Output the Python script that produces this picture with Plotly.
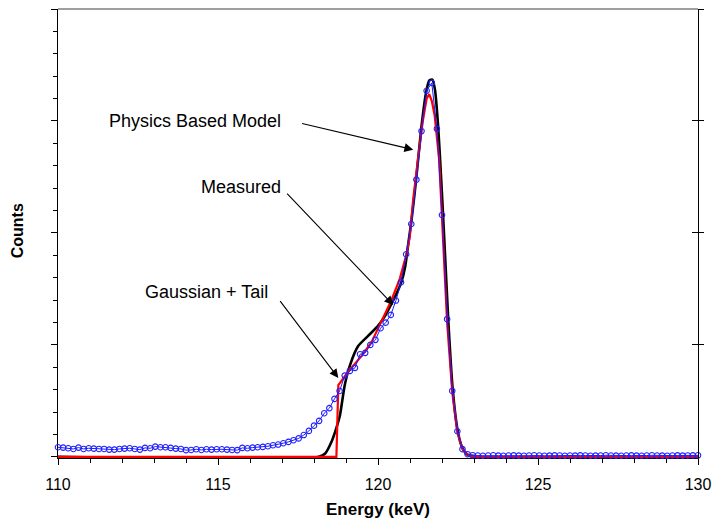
import plotly.graph_objects as go

# ---------------- data ----------------
# Measured spectrum: channels 0.16 keV wide from 110 to 130 keV
E_START = 110.0
E_STEP = 0.16
measured_counts = [
    0.086, 0.083, 0.077, 0.071, 0.083, 0.071, 0.077, 0.074, 0.071, 0.071,
    0.065, 0.065, 0.071, 0.074, 0.077, 0.071, 0.065, 0.080, 0.077, 0.092,
    0.086, 0.086, 0.080, 0.074, 0.071, 0.060, 0.062, 0.068, 0.062, 0.068,
    0.065, 0.068, 0.068, 0.065, 0.062, 0.060, 0.080, 0.077, 0.083, 0.086,
    0.089, 0.095, 0.104, 0.110, 0.122, 0.134, 0.149, 0.165, 0.195, 0.232,
    0.279, 0.322, 0.390, 0.435, 0.518, 0.589, 0.726, 0.768, 0.795, 0.917,
    0.929, 1.000, 1.045, 1.149, 1.199, 1.268, 1.396, 1.560, 1.810, 2.080,
    2.476, 2.910, 3.270, 3.340, 2.930, 2.160, 1.230, 0.589, 0.229, 0.069,
    0.024, 0.015, 0.012, 0.010, 0.012, 0.014, 0.011, 0.010, 0.012, 0.013,
    0.011, 0.010, 0.012, 0.014, 0.012, 0.010, 0.011, 0.013, 0.012, 0.010,
    0.012, 0.011, 0.013, 0.012, 0.010, 0.011, 0.012, 0.014, 0.012, 0.011,
    0.010, 0.012, 0.013, 0.011, 0.010, 0.012, 0.014, 0.012, 0.011, 0.010,
    0.012, 0.013, 0.011, 0.012, 0.013, 0.014,
]
measured_energy = [round(E_START + E_STEP * i, 3) for i in range(len(measured_counts))]

# Physics based model (black)
model_energy = [110.0, 118.15, 118.35, 118.54, 118.7, 118.81, 118.96, 119.12, 119.38,
                119.69, 120.0, 120.2, 120.37, 120.55, 120.73, 120.85, 120.94, 121.05,
                121.2, 121.35, 121.5, 121.6, 121.7, 121.78, 121.88, 121.98, 122.07,
                122.2, 122.33, 122.48, 122.62, 122.75, 122.9, 130.0]
model_counts = [0.0, 0.0, 0.03, 0.13, 0.26, 0.37, 0.64, 0.815, 0.99,
                1.08, 1.17, 1.25, 1.34, 1.44, 1.56, 1.70, 1.89, 2.12,
                2.50, 2.93, 3.25, 3.36, 3.37, 3.28, 2.95, 2.45, 1.95,
                1.20, 0.62, 0.25, 0.09, 0.03, 0.005, 0.0]

# Gaussian + tail fit (red)
gauss_energy = [110.0, 118.70, 118.76, 118.86, 119.07, 119.48, 119.79, 120.04, 120.42,
                120.68, 120.89, 120.99, 121.1, 121.25, 121.4, 121.52, 121.6, 121.68,
                121.77, 121.91, 122.03, 122.16, 122.32, 122.48, 122.64, 122.8, 122.95, 130.0]
gauss_counts = [0.0, 0.0, 0.64, 0.68, 0.76, 0.90, 1.02, 1.17, 1.40,
                1.59, 1.81, 1.96, 2.30, 2.66, 3.00, 3.20, 3.24, 3.18,
                3.05, 2.66, 2.00, 1.20, 0.58, 0.22, 0.07, 0.02, 0.0, 0.0]

x_ticks = [110, 115, 120, 125, 130]

FONT = "Arial, 'Liberation Sans', sans-serif"

fig = go.Figure()

fig.add_trace(go.Scatter(
    x=model_energy, y=model_counts, mode="lines",
    line=dict(color="#000000", width=2.6, shape="spline", smoothing=0.6),
    name="Physics Based Model", showlegend=False))

fig.add_trace(go.Scatter(
    x=gauss_energy, y=gauss_counts, mode="lines",
    line=dict(color="#ff0000", width=2.2),
    name="Gaussian + Tail", showlegend=False))

fig.add_trace(go.Scatter(
    x=measured_energy, y=measured_counts, mode="lines+markers",
    line=dict(color="#1a1aff", width=1),
    marker=dict(symbol="circle-open", size=5.5, color="#2020ff", line=dict(width=1.1)),
    name="Measured", showlegend=False, cliponaxis=False))

# invisible anchors so the right-hand frame axes are drawn
for ya in ("y2", "y3"):
    fig.add_trace(go.Scatter(x=[E_START], y=[0], yaxis=ya, mode="markers",
                             marker=dict(opacity=0), hoverinfo="skip", showlegend=False))

axis_common = dict(showgrid=False, zeroline=False, automargin=False)

fig.update_layout(
    width=712, height=520,
    margin=dict(l=58, r=14, t=9, b=62, autoexpand=False),
    paper_bgcolor="white", plot_bgcolor="white",
    font=dict(family=FONT, size=16, color="black"),
    xaxis=dict(
        range=[110, 130], tickvals=x_ticks, ticktext=[str(v) for v in x_ticks],
        ticks="outside", ticklen=6, tickwidth=1, tickcolor="black",
        showline=True, linecolor="black", linewidth=1.2,
        minor=dict(dtick=1, ticks="outside", ticklen=4, tickcolor="black", tickwidth=1),
        tickfont=dict(size=16, family=FONT, color="black"), ticklabelstandoff=6,
        layer="below traces", **axis_common),
    yaxis=dict(
        range=[-0.01, 4.0], dtick=1, tick0=0, showticklabels=False,
        ticks="outside", ticklen=6, tickwidth=1, tickcolor="black",
        showline=True, linecolor="black", linewidth=1.2,
        minor=dict(dtick=0.2, ticks="outside", ticklen=4, tickcolor="black", tickwidth=1),
        layer="below traces", **axis_common),
    yaxis2=dict(
        overlaying="y", side="right", range=[-0.01, 4.0], tickvals=[1, 2, 3, 4],
        showticklabels=False, ticks="outside", ticklen=5, tickcolor="black",
        showline=True, linecolor="black", linewidth=1.2, **axis_common),
    yaxis3=dict(
        overlaying="y", side="right", range=[-0.01, 4.0], tickvals=[1, 2, 3],
        showticklabels=False, ticks="inside", ticklen=6, tickcolor="black",
        showline=False, **axis_common),
)

# grey top frame line
fig.add_shape(type="line", xref="paper", yref="paper", x0=0, x1=1, y0=1, y1=1,
              line=dict(color="#7f7f7f", width=1.5))

# labels
labels = [
    ("Physics Based Model", 114.27, 3.00),
    ("Measured", 115.72, 2.41),
    ("Gaussian + Tail", 114.63, 1.47),
]
for txt, lx, ly in labels:
    fig.add_annotation(x=lx, y=ly, xref="x", yref="y", text=txt, showarrow=False,
                       xanchor="center", yanchor="middle",
                       font=dict(size=18, family=FONT, color="black"))

# arrows (head position in data coords, tail offset in pixels)
arrows = [
    (121.10, 2.744, -112.6, -26.4),
    (120.478, 1.357, -107.6, -112.7),
    (118.76, 0.705, -59.3, -78.3),
]
for hx, hy, axp, ayp in arrows:
    fig.add_annotation(x=hx, y=hy, xref="x", yref="y", text="", showarrow=True,
                       ax=axp, ay=ayp, arrowhead=2, arrowsize=1.6, arrowwidth=1.1,
                       arrowcolor="black", standoff=0)

# axis titles
fig.add_annotation(x=0.5005, y=-0.1136, xref="paper", yref="paper",
                   text="<b>Energy (keV)</b>", showarrow=False,
                   xanchor="center", yanchor="middle",
                   font=dict(size=17, family=FONT, color="black"))
fig.add_annotation(x=-0.0633, y=0.506, xref="paper", yref="paper",
                   text="<b>Counts</b>", showarrow=False, textangle=-90,
                   xanchor="center", yanchor="middle",
                   font=dict(size=16, family=FONT, color="black"))

fig.write_html("out.html")
